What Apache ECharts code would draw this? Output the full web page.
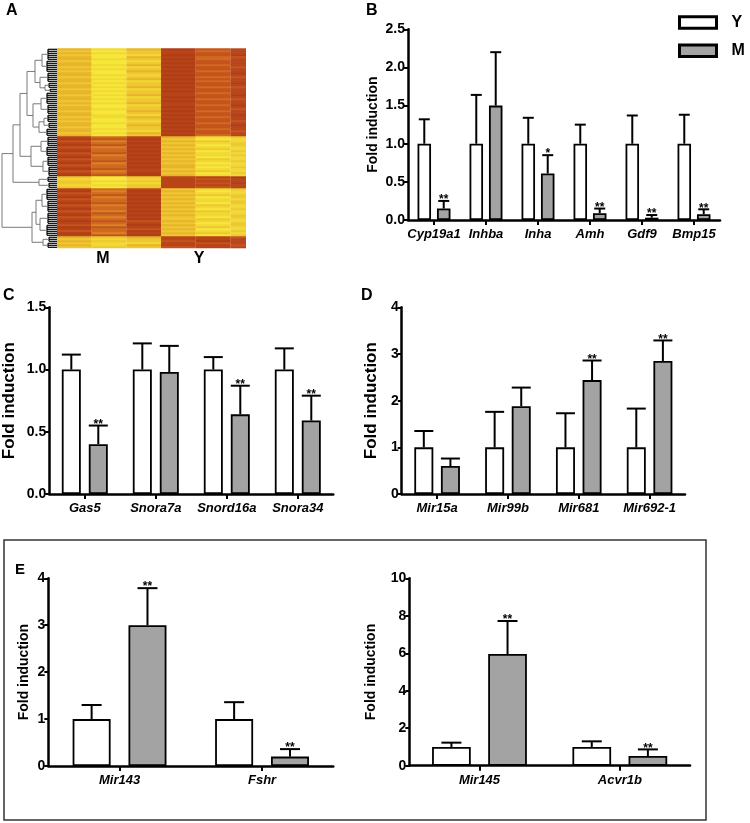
<!DOCTYPE html>
<html><head><meta charset="utf-8">
<script src="https://cdn.jsdelivr.net/npm/echarts/dist/echarts.min.js"></script>
<style>html,body{margin:0;padding:0;background:#fff}#c{width:750px;height:823px}</style>
</head><body><div id="c"></div><script>
const FONT = '"Liberation Sans", Arial, Helvetica, sans-serif';

// ---------- Panel A: heatmap (digits 0 = low/red ... 9 = high/yellow), columns M,M,M,Y,Y,Y
const heatGroups = ['M', 'Y'];
const heatRows = [
 '686021','797131','687121','798020','696132','687031','798121','697021','686131','798022',
 '687121','796031','697120','688021','797132','686021','698131','787020','697121','686032',
 '798121','687021','697131','786120','698021','687132','797021','686121','798130','697021',
 '687122','796031','697121','688020','786131','697021','798122','687031','696120','797021',
 '687131','698022','786121','697031',
 '131687','020798','241678','130787','021697','240788','131678','030797','221688','140787',
 '031698','230778','121687','040798','231688','130697','021788','241678','130797','020688',
 '797110','898121','787111','798120','887111','797121',
 '131787','040698','231788','120677','041797','230688','131787','020697','241778','130688',
 '031797','240678','121788','030687','241797','130778','022688','131797','240687','021778',
 '132698','230787','041678','120797',
 '676112','787111','677201','788121','686112','777211'
];
const heatColors = ['#b03c18','#b84418','#c4541c','#d06a20','#d88424','#e09c28','#e8b42c','#eec830','#f2d834','#f6e83a'];

// dendrogram (h = merge height, r = leaf row range)
const dendroTree = {h:55, c:[
  {h:44, c:[
    {h:37, c:[
      {h:30, c:[
        {h:22, c:[
          {h:15, c:[{h:9, r:[0,5]}, {h:10, r:[6,11]}]},
          {h:17, c:[{h:9, r:[12,16]}, {h:12, c:[{h:8, r:[17,19]}, {h:7, r:[20,21]}]}]}
        ]},
        {h:24, c:[
          {h:16, c:[{h:10, r:[22,27]}, {h:9, r:[28,32]}]},
          {h:18, c:[{h:13, c:[{h:9, r:[33,36]}, {h:8, r:[37,39]}]}, {h:10, r:[40,43]}]}
        ]}
      ]},
      {h:26, c:[
        {h:16, c:[{h:9, r:[44,48]}, {h:10, r:[49,53]}]},
        {h:14, c:[{h:9, r:[54,58]}, {h:8, r:[59,63]}]}
      ]}
    ]},
    {h:18, c:[{h:9, r:[64,66]}, {h:8, r:[67,69]}]}
  ]},
  {h:25, c:[
    {h:21, c:[
      {h:15, c:[{h:10, r:[70,75]}, {h:9, r:[76,81]}]},
      {h:17, c:[{h:9, r:[82,87]}, {h:10, r:[88,93]}]}
    ]},
    {h:14, c:[{h:8, r:[94,96]}, {h:9, r:[97,99]}]}
  ]}
]};

// ---------- Panel B
const catsB = ['Cyp19a1','Inhba','Inha','Amh','Gdf9','Bmp15'];
const yB    = [1, 1, 1, 1, 1, 1];
const yErrB = [1.32, 1.64, 1.34, 1.25, 1.37, 1.38];
const mB    = [0.15, 1.50, 0.61, 0.09, 0.03, 0.075];
const mErrB = [0.25, 2.20, 0.85, 0.15, 0.065, 0.14];
const sigB  = ['**', '', '*', '**', '**', '**'];
const axisB = [0, 2.5, 0.5];

// ---------- Panel C
const catsC = ['Gas5','Snora7a','Snord16a','Snora34'];
const yC    = [1, 1, 1, 1];
const yErrC = [1.12, 1.21, 1.10, 1.17];
const mC    = [0.40, 0.98, 0.64, 0.59];
const mErrC = [0.55, 1.19, 0.87, 0.79];
const sigC  = ['**', '', '**', '**'];
const axisC = [0, 1.5, 0.5];

// ---------- Panel D
const catsD = ['Mir15a','Mir99b','Mir681','Mir692-1'];
const yD    = [1, 1, 1, 1];
const yErrD = [1.35, 1.76, 1.73, 1.83];
const mD    = [0.60, 1.88, 2.44, 2.85];
const mErrD = [0.76, 2.28, 2.86, 3.29];
const sigD  = ['', '', '**', '**'];
const axisD = [0, 4, 1];

// ---------- Panel E (left)
const catsE1 = ['Mir143','Fshr'];
const yE1    = [1, 1];
const yErrE1 = [1.30, 1.36];
const mE1    = [3.0, 0.20];
const mErrE1 = [3.79, 0.36];
const sigE1  = ['**', '**'];
const axisE1 = [0, 4, 1];

// ---------- Panel E (right)
const catsE2 = ['Mir145','Acvr1b'];
const yE2    = [1, 1];
const yErrE2 = [1.23, 1.30];
const mE2    = [5.96, 0.52];
const mErrE2 = [7.72, 0.87];
const sigE2  = ['**', '**'];
const axisE2 = [0, 10, 2];

const seriesNames = ['Y', 'M'];

// ---------- layout
const grids = [
  {left:57, top:48.3, width:189, height:200},      // 0 heatmap
  {left:1, top:48.3, width:56, height:200},        // 1 dendrogram
  {left:408, top:29.3, width:312, height:190.7},   // 2 B
  {left:49.3, top:307.3, width:284, height:186.7}, // 3 C
  {left:401.7, top:307.3, width:283.3, height:186.7}, // 4 D
  {left:48.3, top:578.3, width:285, height:187.7}, // 5 E left
  {left:409.3, top:578.3, width:280.7, height:187.4} // 6 E right
].map(g => Object.assign({outerBoundsMode:'none', containLabel:false}, g));

const panels = [
  {g:2, cats:catsB, y:yB, yErr:yErrB, m:mB, mErr:mErrB, sig:sigB, axis:axisB, dec:1, bw:13.5, gap:0.44, cap:11, nameGap:28, nameSize:14},
  {g:3, cats:catsC, y:yC, yErr:yErrC, m:mC, mErr:mErrC, sig:sigC, axis:axisC, dec:1, bw:19, gap:0.42, cap:19, nameGap:31, nameSize:17},
  {g:4, cats:catsD, y:yD, yErr:yErrD, m:mD, mErr:mErrD, sig:sigD, axis:axisD, dec:0, bw:19, gap:0.40, cap:19, nameGap:22, nameSize:17},
  {g:5, cats:catsE1, y:yE1, yErr:yErrE1, m:mE1, mErr:mErrE1, sig:sigE1, axis:axisE1, dec:0, bw:38, gap:0.47, cap:20, nameGap:17, nameSize:14},
  {g:6, cats:catsE2, y:yE2, yErr:yErrE2, m:mE2, mErr:mErrE2, sig:sigE2, axis:axisE2, dec:0, bw:38.7, gap:0.45, cap:20, nameGap:31, nameSize:14}
];

// ---------- dendrogram segments from tree
const dendroSegs = [];
function layoutTree(node) {
  if (node.r) {
    const lo = node.r[0], hi = node.r[1];
    for (let r = lo; r <= hi; r++) dendroSegs.push([node.h, r + 0.5, 0, r + 0.5, 1]);
    dendroSegs.push([node.h, lo + 0.5, node.h, hi + 0.5, 1]);
    return (lo + hi + 1) / 2;
  }
  const ys = node.c.map(ch => { const y = layoutTree(ch); dendroSegs.push([node.h, y, ch.h, y, 0]); return y; });
  const y0 = Math.min(...ys), y1 = Math.max(...ys);
  dendroSegs.push([node.h, y0, node.h, y1, 0]);
  return (y0 + y1) / 2;
}
layoutTree(dendroTree);

// ---------- axes
const xAxes = [
  {type:'value', gridIndex:0, min:0, max:5.45, show:false},
  {type:'value', gridIndex:1, min:0, max:56, inverse:true, show:false}
];
const yAxes = [
  {type:'value', gridIndex:0, min:0, max:heatRows.length, inverse:true, show:false},
  {type:'value', gridIndex:1, min:0, max:heatRows.length, inverse:true, show:false}
];
const series = [];

series.push({
  type:'custom', xAxisIndex:0, yAxisIndex:0, animation:false, silent:true,
  data: heatRows.flatMap((s, r) => s.split('').map((d, c) => [c, r, +d])),
  renderItem: (params, api) => {
    const c = api.value(0), r = api.value(1);
    const p0 = api.coord([c, r]), p1 = api.coord([c + 1, r + 1]);
    const cs = params.coordSys;
    const shape = echarts.graphic.clipRectByRect(
      {x:p0[0], y:p0[1], width:p1[0]-p0[0], height:p1[1]-p0[1]+0.6},
      {x:cs.x, y:cs.y, width:cs.width, height:cs.height});
    return shape && {type:'rect', shape, style:{fill: api.visual('color')}};
  }
});

series.push({
  type:'custom', xAxisIndex:1, yAxisIndex:1, animation:false, silent:true,
  data: dendroSegs,
  renderItem: (params, api) => {
    const a = api.coord([api.value(0), api.value(1)]);
    const b = api.coord([api.value(2), api.value(3)]);
    const leaf = api.value(4) === 1;
    return {type:'line', shape:{x1:a[0], y1:a[1], x2:b[0], y2:b[1]},
      style:{stroke: leaf ? '#000' : '#7a7a7a', lineWidth: leaf ? 1.2 : 1}};
  }
});

panels.forEach((p, k) => {
  const ai = 2 + k;
  xAxes.push({
    type:'category', gridIndex:p.g, data:p.cats,
    axisLine:{show:true, lineStyle:{color:'#000', width:2.5}},
    axisTick:{show:true, alignWithLabel:true, length:5, lineStyle:{color:'#000', width:2}},
    axisLabel:{show:true, interval:0, margin:8, color:'#000', fontWeight:'bold', fontStyle:'italic', fontSize:13, fontFamily:FONT},
    splitLine:{show:false}
  });
  yAxes.push({
    type:'value', gridIndex:p.g, min:p.axis[0], max:p.axis[1], interval:p.axis[2],
    axisLine:{show:true, lineStyle:{color:'#000', width:2.5}},
    axisTick:{show:true, length:4, lineStyle:{color:'#000', width:2}},
    axisLabel:{show:true, margin:3, color:'#000', fontWeight:'bold', fontSize:14, fontFamily:FONT,
      formatter: v => Number(v).toFixed(p.dec)},
    splitLine:{show:false},
    name:'Fold induction', nameLocation:'middle', nameGap:p.nameGap,
    nameTextStyle:{color:'#000', fontWeight:'bold', fontSize:p.nameSize, fontFamily:FONT}
  });
  const off = p.bw * (1 + p.gap) / 2;
  [[p.y, '#ffffff', 'Y'], [p.m, '#a3a3a3', 'M']].forEach(([vals, col, nm]) => {
    series.push({
      type:'bar', name:nm, xAxisIndex:ai, yAxisIndex:ai, data:vals, barWidth:p.bw, barGap:(p.gap*100)+'%',
      itemStyle:{color:col, borderColor:'#000', borderWidth:1.8}, animation:false, silent:true, z:2
    });
  });
  [[p.y, p.yErr, null, -1], [p.m, p.mErr, p.sig, 1]].forEach(([vals, errs, sig, side]) => {
    series.push({
      type:'custom', xAxisIndex:ai, yAxisIndex:ai, animation:false, silent:true, z:3,
      data: vals.map((v, i) => [i, v, errs[i]]),
      renderItem: (params, api) => {
        const i = api.value(0);
        const base = api.coord([i, api.value(1)]);
        const top = api.coord([i, api.value(2)]);
        const x = base[0] + side * off, hw = p.cap / 2;
        const ch = [
          {type:'line', shape:{x1:x, y1:base[1], x2:x, y2:top[1]}, style:{stroke:'#000', lineWidth:2}},
          {type:'line', shape:{x1:x-hw, y1:top[1], x2:x+hw, y2:top[1]}, style:{stroke:'#000', lineWidth:2}}
        ];
        const s = sig ? sig[params.dataIndex] : '';
        if (s) ch.push({type:'text', style:{text:s, x:x, y:top[1]-1, align:'center', verticalAlign:'middle',
          fontSize:12, fontWeight:'bold', fontFamily:FONT, fill:'#000'}});
        return {type:'group', children:ch};
      }
    });
  });
});

const txt = (t, x, y, size, align) => ({type:'text', x:x, y:y, silent:true,
  style:{text:t, align:align||'left', verticalAlign:'top', fontSize:size, fontWeight:'bold', fontFamily:FONT, fill:'#000'}});

const option = {
  backgroundColor:'#fff',
  animation:false,
  grid: grids,
  xAxis: xAxes,
  yAxis: yAxes,
  visualMap: [{type:'continuous', show:false, seriesIndex:0, dimension:2, min:0, max:9, inRange:{color:heatColors}}],
  legend: {
    data: seriesNames, orient:'vertical', left:678, top:14.5, padding:0, itemWidth:37, itemHeight:11.5, itemGap:12.3,
    icon:'rect', selectedMode:false,
    itemStyle:{borderColor:'#000', borderWidth:3},
    textStyle:{color:'#000', fontSize:16, fontWeight:'bold', fontFamily:FONT, padding:[0,0,0,10]}
  },
  series: series,
  graphic: [
    txt('A', 6, 3, 16),
    txt('B', 366, 3, 16),
    txt('C', 3, 288, 16),
    txt('D', 361, 288, 16),
    txt('E', 15, 562, 15),
    txt(heatGroups[0], 103, 251, 16, 'center'),
    txt(heatGroups[1], 199, 251, 16, 'center'),
    {type:'rect', silent:true, shape:{x:4, y:540, width:702, height:280}, style:{fill:'none', stroke:'#333', lineWidth:1.5}}
  ]
};

const chart = echarts.init(document.getElementById('c'), null, {renderer:'canvas'});
chart.setOption(option);
</script></body></html>
